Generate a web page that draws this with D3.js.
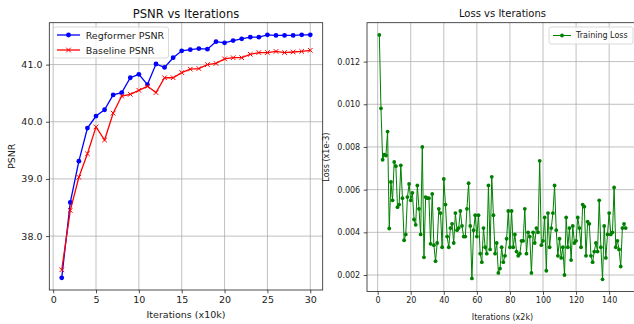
<!DOCTYPE html>
<html>
<head>
<meta charset="utf-8">
<script src="https://cdn.jsdelivr.net/npm/d3@7"></script>
<style>
  body { margin: 0; background: #fff; }
  svg { display: block; font-family: "DejaVu Sans", sans-serif; }
  .tick text { fill: #222; }
</style>
</head>
<body>
<div id="chart"></div>
<script>
// iterations (x10k) for the PSNR plot
const psnrIters = d3.range(1, 31);
const regformerPsnr = [37.27, 38.59, 39.31, 39.89, 40.10, 40.21, 40.47, 40.51, 40.77, 40.83,
  40.65, 41.01, 40.95, 41.12, 41.24, 41.26, 41.28, 41.27, 41.40, 41.38,
  41.42, 41.45, 41.48, 41.48, 41.52, 41.51, 41.51, 41.51, 41.52, 41.52];
const baselinePsnr = [37.41, 38.45, 39.03, 39.44, 39.91, 39.68, 40.15, 40.45, 40.48, 40.55,
  40.62, 40.51, 40.77, 40.77, 40.86, 40.92, 40.93, 41.00, 41.02, 41.10,
  41.12, 41.12, 41.18, 41.21, 41.21, 41.23, 41.21, 41.22, 41.23, 41.25];
const psnrTicksX = [0, 5, 10, 15, 20, 25, 30];
const psnrTicksY = [38, 39, 40, 41];

// iterations (x2k) for the loss plot
const lossIters = d3.range(1, 151);
const trainingLoss = [
  0.01325, 0.00981, 0.00740, 0.00764, 0.00760, 0.00872, 0.00418, 0.00636, 0.00550, 0.00730,
  0.00710, 0.00518, 0.00530, 0.00714, 0.00560, 0.00363, 0.00390, 0.00565, 0.00627, 0.00550,
  0.00585, 0.00460, 0.00435, 0.00620, 0.00510, 0.00390, 0.00800, 0.00283, 0.00565, 0.00560,
  0.00560, 0.00346, 0.00580, 0.00340, 0.00265, 0.00350, 0.00510, 0.00490, 0.00330, 0.00650,
  0.00530, 0.00380, 0.00330, 0.00420, 0.00440, 0.00350, 0.00490, 0.00410, 0.00420, 0.00500,
  0.00430, 0.00380, 0.00380, 0.00510, 0.00630, 0.00430, 0.00184, 0.00410, 0.00480, 0.00380,
  0.00480, 0.00300, 0.00260, 0.00420, 0.00330, 0.00300, 0.00620, 0.00320, 0.00660, 0.00480,
  0.00300, 0.00350, 0.00210, 0.00230, 0.00330, 0.00260, 0.00290, 0.00370, 0.00500, 0.00330,
  0.00500, 0.00330, 0.00390, 0.00310, 0.00290, 0.00300, 0.00360, 0.00360, 0.00510, 0.00300,
  0.00400, 0.00380, 0.00210, 0.00400, 0.00350, 0.00420, 0.00400, 0.00735, 0.00340, 0.00360,
  0.00470, 0.00220, 0.00490, 0.00330, 0.00420, 0.00490, 0.00620, 0.00410, 0.00290, 0.00370,
  0.00280, 0.00330, 0.00200, 0.00470, 0.00330, 0.00420, 0.00270, 0.00430, 0.00350, 0.00360,
  0.00470, 0.00420, 0.00330, 0.00530, 0.00520, 0.00290, 0.00450, 0.00440, 0.00290, 0.00260,
  0.00310, 0.00350, 0.00310, 0.00550, 0.00330, 0.00180, 0.00430, 0.00280, 0.00390, 0.00490,
  0.00390, 0.00400, 0.00610, 0.00330, 0.00360, 0.00320, 0.00240, 0.00420, 0.00440, 0.00420];
const lossTicksX = [0, 20, 40, 60, 80, 100, 120, 140];
const lossTicksY = [0.002, 0.004, 0.006, 0.008, 0.010, 0.012];

const width = 634, height = 324;

const svg = d3.select("#chart")
  .append("svg")
  .attr("width", width)
  .attr("height", height);

// matplotlib style 5% padding around the data
function padded(ext) {
  let pad = (ext[1] - ext[0]) * 0.05;
  return [ext[0] - pad, ext[1] + pad];
}

function panel(box, xDomain, yDomain, opts) {
  let x = d3.scaleLinear().domain(xDomain).range([box.left, box.right]);
  let y = d3.scaleLinear().domain(yDomain).range([box.bottom, box.top]);
  let fs = opts.fontSize;

  let g = svg.append("g");

  // grid
  g.append("g").selectAll("line").data(opts.xTicks).join("line")
    .attr("x1", d => x(d)).attr("x2", d => x(d))
    .attr("y1", box.top).attr("y2", box.bottom)
    .attr("stroke", "#b0b0b0").attr("stroke-width", 0.8);
  g.append("g").selectAll("line").data(opts.yTicks).join("line")
    .attr("y1", d => y(d)).attr("y2", d => y(d))
    .attr("x1", box.left).attr("x2", box.right)
    .attr("stroke", "#b0b0b0").attr("stroke-width", 0.8);

  // axes
  let ax = g.append("g")
    .attr("transform", `translate(0,${box.bottom})`)
    .call(d3.axisBottom(x).tickValues(opts.xTicks).tickSize(3.3).tickPadding(3).tickFormat(d3.format("d")));
  let ay = g.append("g")
    .attr("transform", `translate(${box.left},0)`)
    .call(d3.axisLeft(y).tickValues(opts.yTicks).tickSize(3.3).tickPadding(3.5).tickFormat(opts.yFormat));
  [ax, ay].forEach(a => {
    a.select(".domain").remove();
    a.selectAll(".tick line").attr("stroke", "#222").attr("stroke-width", 0.8);
    a.selectAll("text").style("font-family", "DejaVu Sans").attr("font-size", fs);
  });

  // frame
  g.append("rect")
    .attr("x", box.left).attr("y", box.top)
    .attr("width", box.right - box.left).attr("height", box.bottom - box.top)
    .attr("fill", "none").attr("stroke", "#222").attr("stroke-width", 0.8);

  g.append("text")
    .attr("x", (box.left + box.right) / 2).attr("y", opts.titleY)
    .attr("text-anchor", "middle").attr("font-size", opts.titleSize).attr("fill", "#111")
    .text(opts.title);

  g.append("text")
    .attr("x", (box.left + box.right) / 2).attr("y", opts.xLabelY)
    .attr("text-anchor", "middle").attr("dominant-baseline", "central")
    .attr("font-size", fs).attr("fill", "#222")
    .text(opts.xLabel);

  g.append("text")
    .attr("transform", `translate(${opts.yLabelX},${(box.top + box.bottom) / 2}) rotate(-90)`)
    .attr("text-anchor", "middle").attr("dominant-baseline", "central")
    .attr("font-size", fs).attr("fill", "#222")
    .text(opts.yLabel);

  return { x, y, g };
}

function xMark(sel, size) {
  sel.attr("d", `M${-size},${-size}L${size},${size}M${-size},${size}L${size},${-size}`);
}

// ---- PSNR panel ----
let allPsnr = regformerPsnr.concat(baselinePsnr);
let p1 = panel(
  { left: 49.3, right: 322.7, top: 22.7, bottom: 290 },
  padded(d3.extent(psnrIters)),
  padded(d3.extent(allPsnr)),
  { xTicks: psnrTicksX, yTicks: psnrTicksY, yFormat: d3.format(".1f"),
    fontSize: 9.5, titleSize: 11.6, titleY: 18.3, xLabelY: 314.5,
    title: "PSNR vs Iterations", xLabel: "Iterations (x10k)", yLabel: "PSNR", yLabelX: 11.7 });

let regData = psnrIters.map((it, i) => ({ it, v: regformerPsnr[i] }));
let baseData = psnrIters.map((it, i) => ({ it, v: baselinePsnr[i] }));
let line1 = d3.line().x(d => p1.x(d.it)).y(d => p1.y(d.v));

p1.g.append("path").datum(regData)
  .attr("fill", "none").attr("stroke", "blue").attr("stroke-width", 1.3).attr("d", line1);
p1.g.append("g").selectAll("circle").data(regData).join("circle")
  .attr("cx", d => p1.x(d.it)).attr("cy", d => p1.y(d.v)).attr("r", 2.4).attr("fill", "blue");

p1.g.append("path").datum(baseData)
  .attr("fill", "none").attr("stroke", "red").attr("stroke-width", 1.3).attr("d", line1);
p1.g.append("g").selectAll("path").data(baseData).join("path")
  .attr("transform", d => `translate(${p1.x(d.it)},${p1.y(d.v)})`)
  .attr("stroke", "red").attr("stroke-width", 1).attr("fill", "none")
  .call(xMark, 2.3);

// legend
let lg1 = p1.g.append("g");
lg1.append("rect").attr("x", 53.5).attr("y", 27).attr("width", 115).attr("height", 31)
  .attr("rx", 2).attr("fill", "#fff").attr("fill-opacity", 0.8)
  .attr("stroke", "#d0d0d0").attr("stroke-width", 0.8);
[["Regformer PSNR", "blue", "o"], ["Baseline PSNR", "red", "x"]].forEach(([name, col, m], i) => {
  let yy = 35 + i * 15;
  lg1.append("line").attr("x1", 57).attr("x2", 80).attr("y1", yy).attr("y2", yy)
    .attr("stroke", col).attr("stroke-width", 1.3);
  if (m === "o") {
    lg1.append("circle").attr("cx", 68.5).attr("cy", yy).attr("r", 2.4).attr("fill", col);
  } else {
    lg1.append("path").attr("transform", `translate(68.5,${yy})`)
      .attr("stroke", col).attr("stroke-width", 1).call(xMark, 2.3);
  }
  lg1.append("text").attr("x", 85.7).attr("y", yy).attr("dominant-baseline", "central")
    .attr("font-size", 9.5).attr("fill", "#222").text(name);
});

// ---- Loss panel ----
let p2 = panel(
  { left: 367, right: 638, top: 22.7, bottom: 291.5 },
  padded(d3.extent(lossIters)),
  padded(d3.extent(trainingLoss)),
  { xTicks: lossTicksX, yTicks: lossTicksY, yFormat: d3.format(".3f"),
    fontSize: 8, titleSize: 10, titleY: 17.4, xLabelY: 317,
    title: "Loss vs Iterations", xLabel: "Iterations (x2k)", yLabel: "Loss (x1e-3)", yLabelX: 326.7 });

let lossData = lossIters.map((it, i) => ({ it, v: trainingLoss[i] }));
let line2 = d3.line().x(d => p2.x(d.it)).y(d => p2.y(d.v));
p2.g.append("path").datum(lossData)
  .attr("fill", "none").attr("stroke", "green").attr("stroke-width", 1).attr("d", line2);
p2.g.append("g").selectAll("circle").data(lossData).join("circle")
  .attr("cx", d => p2.x(d.it)).attr("cy", d => p2.y(d.v)).attr("r", 1.9).attr("fill", "green");

let lg2 = p2.g.append("g");
lg2.append("rect").attr("x", 549).attr("y", 27).attr("width", 84).attr("height", 17)
  .attr("rx", 2).attr("fill", "#fff").attr("fill-opacity", 0.8)
  .attr("stroke", "#d0d0d0").attr("stroke-width", 0.8);
lg2.append("line").attr("x1", 553).attr("x2", 571).attr("y1", 35.5).attr("y2", 35.5)
  .attr("stroke", "green").attr("stroke-width", 1);
lg2.append("circle").attr("cx", 562).attr("cy", 35.5).attr("r", 1.9).attr("fill", "green");
lg2.append("text").attr("x", 576).attr("y", 35.5).attr("dominant-baseline", "central")
  .attr("font-size", 8).attr("fill", "#222").text("Training Loss");
</script>
</body>
</html>
